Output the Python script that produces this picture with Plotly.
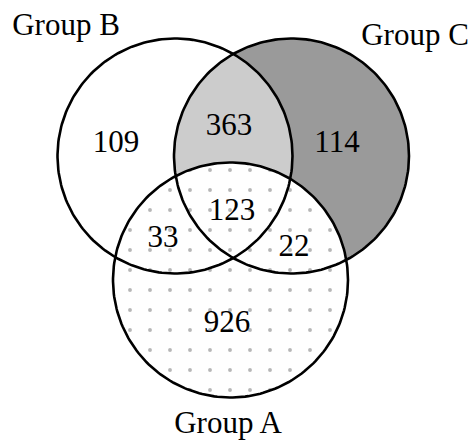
import numpy as np
import plotly.graph_objects as go

# ---- data ----
group_names = ["Group A", "Group B", "Group C"]
region_names = ["B only", "B∩C only", "C only", "A∩B∩C", "A∩B only", "A∩C only", "A only"]
region_counts = [109, 363, 114, 123, 33, 22, 926]

# ---- layout geometry (pixel-like coordinates, y down) ----
W, H = 473, 440
R = 117.5
centers = {"Group A": (230.5, 280.0), "Group B": (175.0, 156.0), "Group C": (291.5, 156.0)}
region_pos = [(116, 144), (229, 127), (337, 144), (232, 212), (163, 239), (294, 248), (227, 324)]
label_pos = {"Group A": (228, 425), "Group B": (66, 27), "Group C": (415, 37)}


def circle_pts(c, r, a0=0, a1=2 * np.pi, n=240):
    t = np.linspace(a0, a1, n)
    return c[0] + r * np.cos(t), c[1] + r * np.sin(t)


fig = go.Figure()

# Group C filled dark gray
x, y = circle_pts(centers["Group C"], R)
fig.add_trace(go.Scatter(x=x, y=y, mode="lines", fill="toself", fillcolor="#9a9a9a",
                         line=dict(width=0), hoverinfo="skip", showlegend=False))

# lens B ∩ C light gray
bx, by = centers["Group B"]
cx, cy = centers["Group C"]
d = cx - bx
th = np.arccos((d / 2) / R)
x1, y1 = circle_pts((bx, by), R, -th, th, 120)
x2, y2 = circle_pts((cx, cy), R, np.pi - th, np.pi + th, 120)
fig.add_trace(go.Scatter(x=np.concatenate([x1, x2]), y=np.concatenate([y1, y2]), mode="lines",
                         fill="toself", fillcolor="#cccccc", line=dict(width=0),
                         hoverinfo="skip", showlegend=False))

# Group A white with dotted pattern
x, y = circle_pts(centers["Group A"], R)
fig.add_trace(go.Scatter(x=x, y=y, mode="lines", fill="toself", fillcolor="white",
                         fillpattern=dict(shape=".", fgcolor="#707070", bgcolor="white",
                                          size=20, solidity=0.03),
                         line=dict(width=0), hoverinfo="skip", showlegend=False))

# outlines
for g in ["Group B", "Group C", "Group A"]:
    x, y = circle_pts(centers[g], R)
    fig.add_trace(go.Scatter(x=x, y=y, mode="lines", line=dict(color="black", width=2.6),
                             hoverinfo="skip", showlegend=False))

# region counts
fig.add_trace(go.Scatter(x=[p[0] for p in region_pos], y=[p[1] for p in region_pos],
                         mode="text", text=[str(v) for v in region_counts],
                         hovertext=region_names, textposition="middle center",
                         textfont=dict(family="Liberation Serif", size=31, color="black"),
                         showlegend=False))

# group labels
fig.add_trace(go.Scatter(x=[label_pos[g][0] for g in group_names], y=[label_pos[g][1] for g in group_names],
                         mode="text", text=group_names, textposition="middle center",
                         textfont=dict(family="Liberation Serif", size=31, color="black"),
                         hoverinfo="skip", showlegend=False))

fig.update_layout(
    width=W, height=H, margin=dict(l=0, r=0, t=0, b=0),
    paper_bgcolor="white", plot_bgcolor="white",
    xaxis=dict(range=[0, W], visible=False, fixedrange=True),
    yaxis=dict(range=[H, 0], visible=False, fixedrange=True),
)
fig.write_html("out.html", config={"displayModeBar": False},
               post_script="document.body.style.margin='0';document.body.style.overflow='hidden';")
